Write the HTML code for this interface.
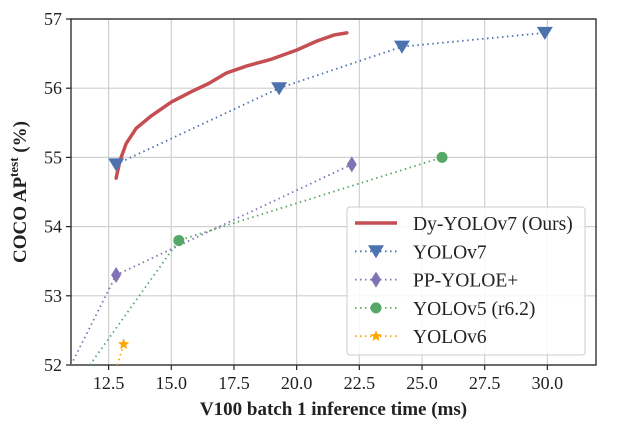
<!DOCTYPE html>
<html><head><meta charset="utf-8"><style>
body{margin:0;background:#fff;}
svg text{font-family:"Liberation Serif",serif;fill:#222;}
</style></head><body>
<svg id="c" width="618" height="427" xmlns="http://www.w3.org/2000/svg"></svg>
<script>
const xTicks=[12.5,15.0,17.5,20.0,22.5,25.0,27.5,30.0];
const yTicks=[52,53,54,55,56,57];
const dyX=[12.8,12.95,13.2,13.6,14.2,15.0,15.8,16.5,17.2,18.0,19.0,20.0,20.8,21.5,22.0];
const dyY=[54.7,54.95,55.2,55.42,55.6,55.8,55.95,56.07,56.22,56.32,56.42,56.55,56.68,56.77,56.8];
const v7X=[12.8,19.3,24.2,29.9];
const v7Y=[54.9,56.0,56.6,56.8];
const ppX=[11.0,12.8,22.2];
const ppY=[52.0,53.3,54.9];
const v5X=[11.75,15.3,25.8];
const v5Y=[52.0,53.8,55.0];
const v6X=[12.85,13.1];
const v6Y=[52.0,52.3];
const L=71,R=596,T=19,B=365,xmin=11,xmax=31.94,ymin=52,ymax=57;
const sx=v=>L+(v-xmin)/(xmax-xmin)*(R-L);
const sy=v=>B-(v-ymin)/(ymax-ymin)*(B-T);
const svg=document.getElementById('c');
const NS='http://www.w3.org/2000/svg';
function mk(t,a,p){const e=document.createElementNS(NS,t);for(const k in a)e.setAttribute(k,a[k]);(p||svg).appendChild(e);return e;}
const defs=mk('defs',{});const cp=mk('clipPath',{id:'clip'},defs);mk('rect',{x:L,y:T,width:R-L,height:B-T},cp);
xTicks.forEach(v=>{const g=mk('line',{x1:sx(v),x2:sx(v),y1:T,y2:B,stroke:'#d0d0d0','stroke-width':1.2});

mk('line',{x1:sx(v),x2:sx(v),y1:B,y2:B+5,stroke:'#222','stroke-width':1.2});
const t=mk('text',{x:sx(v),y:B+24,'text-anchor':'middle','font-size':18});t.textContent=v.toFixed(1);
});
yTicks.forEach(v=>{const g=mk('line',{x1:L,x2:R,y1:sy(v),y2:sy(v),stroke:'#d0d0d0','stroke-width':1.2});

mk('line',{x1:L-5,x2:L,y1:sy(v),y2:sy(v),stroke:'#222','stroke-width':1.2});
const t=mk('text',{x:L-9,y:sy(v)+6,'text-anchor':'end','font-size':18});t.textContent=v;
});
const fr=mk('rect',{x:L,y:T,width:R-L,height:B-T,fill:'none',stroke:'#222','stroke-width':1.3});

const pg=mk('g',{'clip-path':'url(#clip)'});
function pts(xs,ys){return xs.map((x,i)=>sx(x)+','+sy(ys[i])).join(' ');}
function marker(type,x,y,c,p){
 if(type==='tri')return mk('polygon',{points:`${x-8},${y-6} ${x+8},${y-6} ${x},${y+7}`,fill:c},p);
 if(type==='dia')return mk('polygon',{points:`${x},${y-8} ${x+5},${y} ${x},${y+8} ${x-5},${y}`,fill:c},p);
 if(type==='cir')return mk('circle',{cx:x,cy:y,r:5.5,fill:c},p);
 let s='';for(let i=0;i<10;i++){const r=i%2?2.6:6,a=-Math.PI/2+i*Math.PI/5;s+=(x+r*Math.cos(a))+','+(y+r*Math.sin(a))+' ';}
 return mk('polygon',{points:s,fill:c},p);}
const series=[['yolov7',v7X,v7Y,'#4c72b0','tri'],['pp-yoloe',ppX,ppY,'#8172b3','dia'],['yolov5',v5X,v5Y,'#55a868','cir'],['yolov6',v6X,v6Y,'#ffa500','star']];
series.forEach(([n,xs,ys,c,m])=>{
 const l=mk('polyline',{points:pts(xs,ys),fill:'none',stroke:c,'stroke-width':1.8,'stroke-dasharray':'1.5,3.5'},pg);
 
 xs.forEach((x,i)=>{if(n!=='yolov7'&&i===0)return;
  const mm=marker(m,sx(x),sy(ys[i]),c,svg);});
});
const dl=mk('polyline',{points:pts(dyX,dyY),fill:'none',stroke:'#c44e52','stroke-width':3.5,'stroke-linejoin':'round','stroke-linecap':'round'},pg);

const lg=mk('g',{});
mk('rect',{x:347,y:207,width:238,height:148,rx:3,fill:'#fff','fill-opacity':0.85,stroke:'#ccc','stroke-width':1},lg);
const names=['Dy-YOLOv7 (Ours)','YOLOv7','PP-YOLOE+','YOLOv5 (r6.2)','YOLOv6'];
names.forEach((nm,i)=>{const y=223+i*28.3;
 if(i===0)mk('line',{x1:355,x2:397,y1:y,y2:y,stroke:'#c44e52','stroke-width':3.5},lg);
 else{const [n,,,c,m]=series[i-1];mk('line',{x1:355,x2:397,y1:y,y2:y,stroke:c,'stroke-width':1.8,'stroke-dasharray':'1.5,3.5'},lg);marker(m,376,y,c,lg);}
 const t=mk('text',{x:413,y:y+7,'font-size':19.5},lg);t.textContent=nm;
 });
const xt=mk('text',{x:(L+R)/2,y:415,'text-anchor':'middle','font-size':19,'font-weight':'bold'});xt.textContent='V100 batch 1 inference time (ms)';

const yt=mk('text',{x:0,y:0,'text-anchor':'middle','font-size':19,'font-weight':'bold',transform:`translate(26,${(T+B)/2}) rotate(-90)`});
yt.innerHTML='COCO AP<tspan dy="-8" font-size="13">test</tspan><tspan dy="8"> (%)</tspan>';

</script>
</body></html>
